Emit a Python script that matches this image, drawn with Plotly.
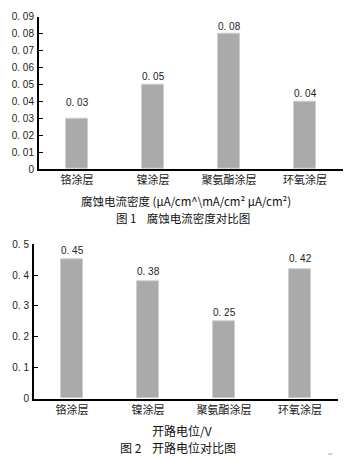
import plotly.graph_objects as go

# ---- data ----
categories = ["铬涂层", "镍涂层", "聚氨酯涂层", "环氧涂层"]
current_density = [0.03, 0.05, 0.08, 0.04]
open_potential = [0.45, 0.38, 0.25, 0.42]
y1_ticks = [0, 0.01, 0.02, 0.03, 0.04, 0.05, 0.06, 0.07, 0.08, 0.09]
y2_ticks = [0, 0.1, 0.2, 0.3, 0.4, 0.5]
x1_title = "腐蚀电流密度 (μA/cm^\\mA/cm² μA/cm²)"
x2_title = "开路电位/V"
caption1 = "图 1    腐蚀电流密度对比图"
caption2 = "图 2    开路电位对比图"

W, H = 363, 469
CJK = "Noto Sans CJK SC"
NUM = "Liberation Sans"
BAR = "#aaaaaa"
EDGE = "#cfcfcf"
TXT = "#222222"


def fmt(v):
    s = f"{v:g}"
    return s.replace(".", ". ")


def px(x):
    return x / W


def py(y):
    return 1 - y / H


fig = go.Figure()
fig.add_trace(go.Bar(x=categories, y=current_density, width=0.28,
                     marker=dict(color=BAR, line=dict(color=EDGE, width=1)),
                     xaxis="x", yaxis="y", showlegend=False, hoverinfo="skip"))
fig.add_trace(go.Bar(x=categories, y=open_potential, width=0.29,
                     marker=dict(color=BAR, line=dict(color=EDGE, width=1)),
                     xaxis="x2", yaxis="y2", showlegend=False, hoverinfo="skip"))

ann = []
shift1 = [8, 0, 0, 0]
for c, v, s in zip(categories, current_density, shift1):
    ann.append(dict(x=c, y=v, xref="x", yref="y", text=fmt(v), showarrow=False,
                    yanchor="bottom", yshift=s, font=dict(family=NUM, size=10, color=TXT)))
shift2 = [2, 2, 1, 3]
for c, v, s in zip(categories, open_potential, shift2):
    ann.append(dict(x=c, y=v, xref="x2", yref="y2", text=fmt(v), showarrow=False,
                    yanchor="bottom", yshift=s, font=dict(family=NUM, size=10, color=TXT)))

for text, x, y, size in [(x1_title, 186, 201, 11.5), (caption1, 183, 218, 11.5),
                         (x2_title, 182, 436, 12), (caption2, 178, 453, 12)]:
    ann.append(dict(x=px(x), y=py(y), xref="paper", yref="paper", text=text,
                    showarrow=False, xanchor="center", yanchor="middle",
                    font=dict(family=CJK, size=size, color="#111111")))
ann.append(dict(x=px(335), y=py(466), xref="paper", yref="paper", text="**",
                showarrow=False, font=dict(family=NUM, size=6, color="#999999")))

axis_common = dict(showgrid=False, zeroline=False, showline=True,
                   linecolor="black", linewidth=2)

fig.update_layout(
    width=W, height=H, autosize=False,
    margin=dict(l=0, r=0, t=0, b=0),
    paper_bgcolor="white", plot_bgcolor="white",
    bargap=0,
    annotations=ann,
    xaxis=dict(domain=[px(39), px(343)], anchor="y", ticks="",
               tickfont=dict(family=CJK, size=11, color=TXT),
               ticklabelstandoff=0, **axis_common),
    yaxis=dict(domain=[py(168), py(12)], anchor="x", range=[0, 0.09],
               tickvals=y1_ticks, ticktext=[fmt(v) for v in y1_ticks],
               ticks="inside", ticklen=4, tickwidth=1, tickcolor="black",
               tickfont=dict(family=NUM, size=10, color=TXT),
               ticklabelstandoff=1, **axis_common),
    xaxis2=dict(domain=[px(34), px(338)], anchor="y2", ticks="",
                tickfont=dict(family=CJK, size=11, color=TXT),
                ticklabelstandoff=0, **axis_common),
    yaxis2=dict(domain=[py(403), py(245)], anchor="x2", range=[0, 0.5],
                tickvals=y2_ticks, ticktext=[fmt(v) for v in y2_ticks],
                ticks="inside", ticklen=4, tickwidth=1, tickcolor="black",
                tickfont=dict(family=NUM, size=10, color=TXT),
                ticklabelstandoff=1, **axis_common),
)

fig.write_html("out.html", config={"displayModeBar": False},
               post_script="document.body.style.margin='0';document.body.style.overflow='hidden';")
